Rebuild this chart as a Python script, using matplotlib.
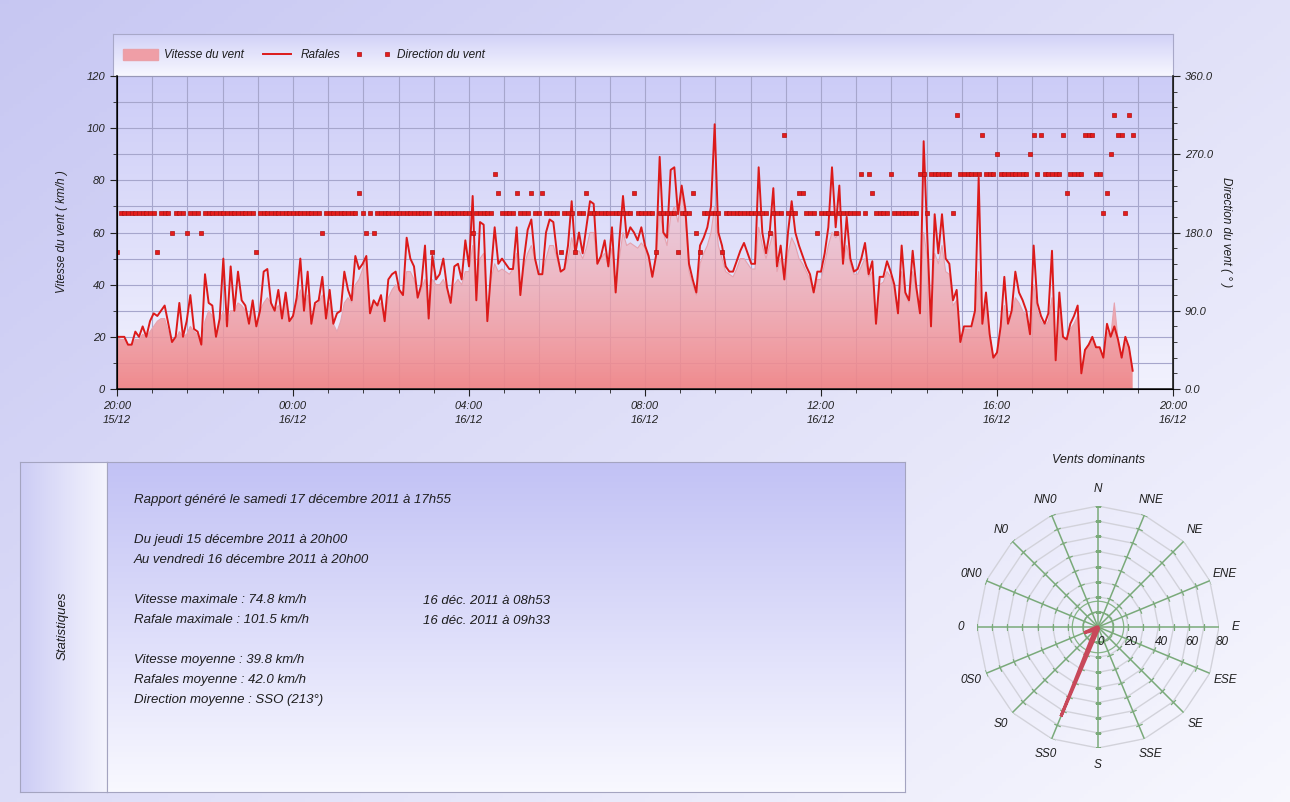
import numpy as np
import pandas as pd
import matplotlib
matplotlib.use('Agg')
import matplotlib.pyplot as plt
import matplotlib.dates as mdates
from matplotlib.ticker import MultipleLocator, FormatStrFormatter
from matplotlib.lines import Line2D
from matplotlib.patches import Patch

# 5 minute samples from 15/12/2011 20:00, one row per hour
rafales = [
    20, 20, 20, 17, 17, 22, 20, 24, 20, 26, 29, 28,
    30, 32, 25, 18, 20, 33, 20, 26, 36, 23, 22, 17,
    44, 33, 32, 20, 27, 50, 24, 47, 30, 45, 34, 32,
    25, 34, 24, 30, 45, 46, 33, 30, 38, 27, 37, 26,
    28, 35, 50, 30, 45, 25, 33, 34, 43, 27, 38, 25,
    29, 30, 45, 38, 34, 51, 46, 48, 51, 29, 34, 32,
    36, 26, 42, 44, 45, 38, 36, 58, 50, 47, 35, 40,
    55, 27, 51, 42, 44, 50, 39, 33, 47, 48, 42, 57,
    47, 74, 34, 64, 63, 26, 45, 62, 48, 50, 48, 46,
    46, 62, 36, 50, 61, 65, 50, 44, 44, 60, 65, 64,
    52, 45, 46, 55, 72, 52, 60, 52, 62, 72, 71, 48,
    51, 57, 47, 62, 37, 57, 74, 58, 62, 60, 57, 62,
    55, 51, 43, 51, 89, 60, 58, 84, 85, 67, 78, 69,
    48, 42, 37, 55, 58, 62, 70, 101.5, 60, 55, 47, 45,
    45, 49, 53, 56, 52, 48, 48, 85, 60, 52, 60, 77,
    47, 55, 42, 60, 72, 60, 55, 51, 47, 44, 37, 45,
    45, 52, 62, 85, 62, 78, 48, 66, 50, 45, 46, 50,
    56, 44, 49, 25, 43, 43, 49, 45, 40, 29, 55, 37,
    34, 53, 39, 29, 95, 58, 24, 67, 52, 67, 50, 48,
    34, 38, 18, 24, 24, 24, 30, 81, 25, 37, 21, 12,
    14, 24, 43, 25, 30, 45, 37, 34, 30, 21, 55, 33,
    28, 25, 29, 53, 11, 37, 20, 19, 25, 28, 32, 6,
    15, 17, 20, 16, 16, 12, 25, 20, 24, 19, 12, 20,
    16, 7,
]

vitesse = [
    20, 19, 19, 17, 17, 19, 19, 21, 20, 22, 24, 26,
    27, 27, 22, 18, 19, 22, 20, 21, 24, 22, 21, 17,
    26, 30, 28, 20, 26, 30, 24, 30, 30, 33, 32, 30,
    25, 31, 24, 30, 33, 35, 33, 30, 32, 27, 34, 26,
    28, 33, 38, 30, 36, 25, 32, 33, 36, 27, 33, 25,
    22, 26, 33, 35, 33, 40, 42, 46, 50, 29, 34, 32,
    33, 26, 35, 38, 40, 38, 36, 45, 45, 42, 35, 38,
    42, 27, 42, 40, 40, 42, 38, 33, 40, 42, 40, 45,
    45, 55, 34, 50, 52, 26, 42, 48, 45, 46, 45, 44,
    46, 52, 36, 47, 52, 55, 50, 44, 44, 50, 55, 55,
    50, 45, 46, 50, 58, 52, 53, 50, 54, 60, 60, 48,
    50, 52, 47, 54, 37, 50, 60, 55, 56, 55, 54, 56,
    54, 50, 43, 50, 68, 60, 55, 66, 70, 64, 74.8, 66,
    45, 40, 36, 48, 52, 55, 60, 70, 55, 50, 45, 44,
    43, 46, 50, 50, 48, 46, 46, 62, 55, 50, 55, 60,
    45, 50, 42, 52, 58, 55, 50, 48, 45, 42, 37, 42,
    42, 48, 55, 60, 58, 60, 48, 55, 48, 44, 44, 47,
    50, 43, 45, 25, 40, 41, 45, 43, 38, 29, 45, 36,
    33, 45, 37, 29, 60, 50, 24, 52, 48, 55, 45, 44,
    32, 34, 18, 23, 23, 23, 28, 45, 25, 32, 21, 12,
    14, 22, 32, 25, 28, 35, 33, 30, 28, 21, 40, 30,
    26, 24, 26, 35, 11, 30, 20, 19, 23, 25, 28, 6,
    15, 17, 19, 16, 16, 12, 22, 20, 33, 19, 12, 18,
    16, 7,
]

direction = [
    157.5, 202.5, 202.5, 202.5, 202.5, 202.5, 202.5, 202.5, 202.5, 202.5, 202.5, 157.5,
    202.5, 202.5, 202.5, 180, 202.5, 202.5, 202.5, 180, 202.5, 202.5, 202.5, 180,
    202.5, 202.5, 202.5, 202.5, 202.5, 202.5, 202.5, 202.5, 202.5, 202.5, 202.5, 202.5,
    202.5, 202.5, 157.5, 202.5, 202.5, 202.5, 202.5, 202.5, 202.5, 202.5, 202.5, 202.5,
    202.5, 202.5, 202.5, 202.5, 202.5, 202.5, 202.5, 202.5, 180, 202.5, 202.5, 202.5,
    202.5, 202.5, 202.5, 202.5, 202.5, 202.5, 225, 202.5, 180, 202.5, 180, 202.5,
    202.5, 202.5, 202.5, 202.5, 202.5, 202.5, 202.5, 202.5, 202.5, 202.5, 202.5, 202.5,
    202.5, 202.5, 157.5, 202.5, 202.5, 202.5, 202.5, 202.5, 202.5, 202.5, 202.5, 202.5,
    202.5, 180, 202.5, 202.5, 202.5, 202.5, 202.5, 247.5, 225, 202.5, 202.5, 202.5,
    202.5, 225, 202.5, 202.5, 202.5, 225, 202.5, 202.5, 225, 202.5, 202.5, 202.5,
    202.5, 157.5, 202.5, 202.5, 202.5, 157.5, 202.5, 202.5, 225, 202.5, 202.5, 202.5,
    202.5, 202.5, 202.5, 202.5, 202.5, 202.5, 202.5, 202.5, 202.5, 225, 202.5, 202.5,
    202.5, 202.5, 202.5, 157.5, 202.5, 202.5, 202.5, 202.5, 202.5, 157.5, 202.5, 202.5,
    202.5, 225, 180, 157.5, 202.5, 202.5, 202.5, 202.5, 202.5, 157.5, 202.5, 202.5,
    202.5, 202.5, 202.5, 202.5, 202.5, 202.5, 202.5, 202.5, 202.5, 202.5, 180, 202.5,
    202.5, 202.5, 292.5, 202.5, 202.5, 202.5, 225, 225, 202.5, 202.5, 202.5, 180,
    202.5, 202.5, 202.5, 202.5, 180, 202.5, 202.5, 202.5, 202.5, 202.5, 202.5, 247.5,
    202.5, 247.5, 225, 202.5, 202.5, 202.5, 202.5, 247.5, 202.5, 202.5, 202.5, 202.5,
    202.5, 202.5, 202.5, 247.5, 247.5, 202.5, 247.5, 247.5, 247.5, 247.5, 247.5, 247.5,
    202.5, 315, 247.5, 247.5, 247.5, 247.5, 247.5, 247.5, 292.5, 247.5, 247.5, 247.5,
    270, 247.5, 247.5, 247.5, 247.5, 247.5, 247.5, 247.5, 247.5, 270, 292.5, 247.5,
    292.5, 247.5, 247.5, 247.5, 247.5, 247.5, 292.5, 225, 247.5, 247.5, 247.5, 247.5,
    292.5, 292.5, 292.5, 247.5, 247.5, 202.5, 225, 270, 315, 292.5, 292.5, 202.5,
    315, 292.5,
]

# vents dominants (N clockwise)
rose_labels = ['N', 'NNE', 'NE', 'ENE', 'E', 'ESE', 'SE', 'SSE',
               'S', 'SS0', 'S0', '0S0', '0', '0N0', 'N0', 'NN0']
rose_values = [0, 0, 0, 0, 0, 0, 0, 1, 2, 64, 3, 10, 1, 0, 0, 0]

stats_lines = [
    "Rapport généré le samedi 17 décembre 2011 à 17h55",
    "",
    "Du jeudi 15 décembre 2011 à 20h00",
    "Au vendredi 16 décembre 2011 à 20h00",
    "",
    "Vitesse maximale : 74.8 km/h",
    "Rafale maximale : 101.5 km/h",
    "",
    "Vitesse moyenne : 39.8 km/h",
    "Rafales moyenne : 42.0 km/h",
    "Direction moyenne : SSO (213°)",
]
stats_dates = ["16 déc. 2011 à 08h53", "16 déc. 2011 à 09h33"]

W, H = 1290, 802
plt.rcParams['font.family'] = ['Liberation Sans', 'DejaVu Sans']
plt.rcParams['font.style'] = 'italic'
TXT = '#1e1e1e'


def box(x0, y0, x1, y1):
    return [x0 / W, 1 - y1 / H, (x1 - x0) / W, (y1 - y0) / H]


def vgrad(ax, top, bot, n=256, horizontal=False, **kw):
    t = np.linspace(0, 1, n)[:, None]
    top, bot = np.array(top), np.array(bot)
    img = top + (bot - top) * t[:, :, None] * np.ones((1, 1, 3))
    if horizontal:
        img = np.transpose(img, (1, 0, 2))
    ax.imshow(img, extent=[0, 1, 0, 1], transform=ax.transAxes,
              aspect='auto', zorder=0, **kw)


fig = plt.figure(figsize=(W / 100, H / 100), dpi=100)

# page background
bg = fig.add_axes([0, 0, 1, 1], zorder=-10)
U, V = np.meshgrid(np.linspace(0, 1, 300), np.linspace(0, 1, 200))
tt = (0.55 * U + 0.45 * V)[:, :, None]
c0 = np.array([0.78, 0.78, 0.95])
c1 = np.array([0.97, 0.97, 0.995])
bg.imshow(c0 + (c1 - c0) * tt, extent=[0, 1, 0, 1], aspect='auto')
bg.set_axis_off()

# legend strip
strip = fig.add_axes(box(113, 34, 1173, 76), zorder=-5)
vgrad(strip, (0.82, 0.82, 0.97), (0.97, 0.97, 1.0))
strip.set_xticks([]); strip.set_yticks([])
for s in strip.spines.values():
    s.set_color('#a8a8c8')

# main chart
times = pd.date_range('2011-12-15 20:00', periods=len(rafales), freq='5min')
xnum = mdates.date2num(times)
x0 = mdates.date2num(pd.Timestamp('2011-12-15 20:00'))
x1 = mdates.date2num(pd.Timestamp('2011-12-16 20:00'))

ax = fig.add_axes(box(117, 76, 1173, 389))
vgrad(ax, (0.80, 0.80, 0.97), (0.95, 0.95, 0.995))
ax.set_axisbelow(True)

fill = ax.fill_between(xnum, vitesse, 0, facecolor='none', edgecolor='none')
g = np.linspace(0, 1, 256)[:, None]
grad = np.zeros((256, 1, 4))
grad[:, :, 0] = 0.94 + 0.01 * g
grad[:, :, 1] = 0.52 + 0.26 * g
grad[:, :, 2] = 0.53 + 0.30 * g
grad[:, :, 3] = 0.95 - 0.40 * g
im = ax.imshow(grad, extent=[xnum[0], xnum[-1], 0, 78], origin='lower',
               aspect='auto', zorder=2)
im.set_clip_path(fill.get_paths()[0], ax.transData)
ax.plot(xnum, vitesse, color='#e6a2ae', lw=0.8, zorder=3)
ax.plot(xnum, rafales, color='#dc1a1a', lw=1.4, zorder=4)

ax.set_xlim(x0, x1)
ax.set_ylim(0, 120)
ax.xaxis.set_major_locator(MultipleLocator(1 / 6))
ax.xaxis.set_minor_locator(MultipleLocator(1 / 30))
ax.xaxis.set_major_formatter(mdates.DateFormatter('%H:%M\n%d/%m'))
ax.yaxis.set_major_locator(MultipleLocator(20))
ax.yaxis.set_minor_locator(MultipleLocator(10))
ax.grid(which='both', color='#a6a6cc', lw=0.8)
ax.tick_params(which='both', direction='out', labelsize=8, colors='#222222')
ax.tick_params(which='major', length=5)
ax.tick_params(which='minor', length=3)
for s in ['left', 'bottom']:
    ax.spines[s].set_color('#202020')
    ax.spines[s].set_linewidth(1.2)
ax.spines['top'].set_color('#9898b8')
ax.spines['right'].set_color('#202020')

ax2 = ax.twinx()
ax2.plot(xnum, direction, ls='none', marker='s', ms=3.2, mfc='#e41c1c',
         mec='#b01212', mew=0.5)
ax2.set_ylim(0, 360)
ax2.yaxis.set_major_locator(MultipleLocator(90))
ax2.yaxis.set_minor_locator(MultipleLocator(18))
ax2.yaxis.set_major_formatter(FormatStrFormatter('%.1f'))
ax2.tick_params(which='both', direction='out', labelsize=8, colors='#222222')
ax2.tick_params(which='major', length=5)
ax2.tick_params(which='minor', length=3)
ax2.spines['right'].set_color('#202020')
ax2.spines['right'].set_linewidth(1.2)
ax2.spines['top'].set_visible(False)
ax2.set_xlim(x0, x1)

fig.text(62 / W, 1 - 232 / H, 'Vitesse du vent ( km/h )', rotation=90,
         ha='center', va='center', size=8.5, color=TXT)
fig.text(1226 / W, 1 - 232 / H, 'Direction du vent ( ° )', rotation=270,
         ha='center', va='center', size=8.5, color=TXT)

handles = [Patch(facecolor='#ef9ea6', edgecolor='#eaa0a8'),
           Line2D([], [], color='#dc1a1a', lw=1.4),
           Line2D([], [], ls='none', marker='s', ms=3, mfc='#e41c1c',
                  mec='#b01212', mew=0.5)]
fig.legend(handles, ['Vitesse du vent', 'Rafales', 'Direction du vent'],
           loc='center left', bbox_to_anchor=(112 / W, 1 - 55 / H), ncol=3,
           frameon=False, fontsize=8.5, numpoints=2, handlelength=3.0,
           handleheight=1.1, handletextpad=0.5, columnspacing=1.3,
           labelcolor=TXT)

# statistics panel
side = fig.add_axes(box(20, 462, 107, 792))
vgrad(side, (0.80, 0.80, 0.96), (0.96, 0.96, 0.995), horizontal=True)
side.set_xticks([]); side.set_yticks([])
for s in side.spines.values():
    s.set_color('#a4a4c0')
panel = fig.add_axes(box(107, 462, 905, 792))
vgrad(panel, (0.76, 0.76, 0.96), (0.975, 0.975, 1.0))
panel.set_xticks([]); panel.set_yticks([])
for s in panel.spines.values():
    s.set_color('#a4a4c0')
fig.text(63 / W, 1 - 626 / H, 'Statistiques', rotation=90, ha='center',
         va='center', size=9.5, color=TXT)
for i, line in enumerate(stats_lines):
    if line:
        fig.text(134 / W, 1 - (500 + 20 * i) / H, line, ha='left',
                 va='center', size=9.5, color=TXT)
for i, line in enumerate(stats_dates):
    fig.text(423 / W, 1 - (601 + 20 * i) / H, line, ha='left', va='center',
             size=9.5, color=TXT)

# wind rose
cx, cy, R = 1098, 627, 121
axr = fig.add_axes(box(cx - R, cy - R, cx + R, cy + R), projection='polar')
axr.set_theta_zero_location('N')
axr.set_theta_direction(-1)
axr.set_ylim(0, 80)
axr.set_axis_off()
deg = np.arange(16) * 22.5
th = np.deg2rad(deg)
thc = np.append(th, th[0])
for r in range(10, 90, 10):
    axr.plot(thc, [r] * 17, color='#d2d2da', lw=1.0, zorder=1)
circ = np.linspace(0, 2 * np.pi, 120)
for r in (10, 17):
    axr.plot(circ, [r] * 120, color='#88b488', lw=0.9, zorder=2)
for t, d in zip(th, deg):
    axr.plot([t, t], [0, 80], color='#7aaa7a', lw=1.1, zorder=2)
    axr.plot([t] * 8, np.arange(10, 90, 10), ls='none',
             marker=(2, 0, 90 - d), ms=5, mew=0.9, color='#7aaa7a', zorder=2)
rv = np.append(rose_values, rose_values[0])
axr.fill(thc, rv, facecolor='#e8959f', edgecolor='#c8485a', lw=2.2, zorder=5)
for t, lab in zip(th, rose_labels):
    axr.text(t, 91, lab, ha='center', va='center', size=8.5, color=TXT,
             clip_on=False)
for r in range(0, 100, 20):
    axr.annotate(str(r), (np.pi / 2, r), xytext=(2, -11),
                 textcoords='offset points', ha='center', va='center',
                 size=8.5, color=TXT, annotation_clip=False)
fig.text(cx / W, 1 - 460 / H, 'Vents dominants', ha='center', va='center',
         size=9, color=TXT)

fig.canvas.draw()
for lab in ax.get_xticklabels():
    lab.set_linespacing(1.5)
fig.savefig('out.png', dpi=100)
